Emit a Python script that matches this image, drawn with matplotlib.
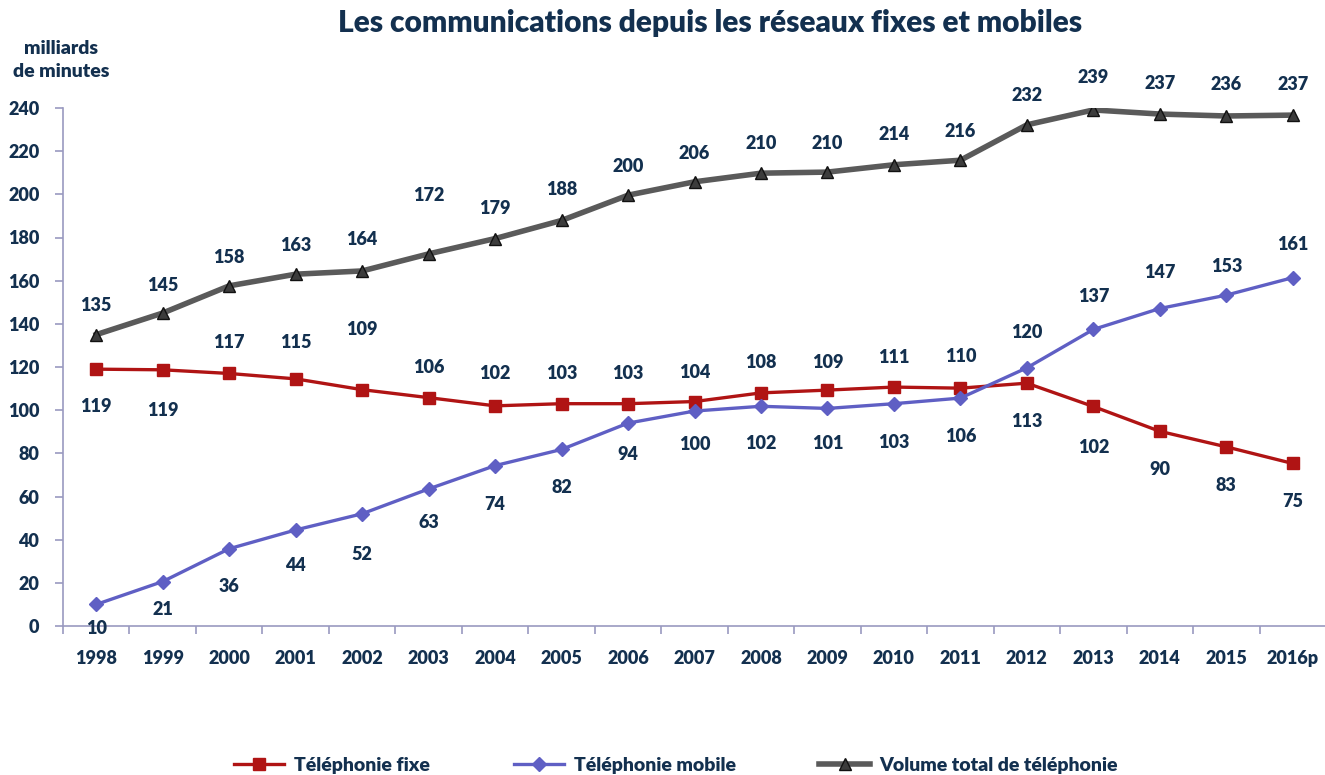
import matplotlib
matplotlib.use("Agg")
import matplotlib.pyplot as plt
import numpy as np

years = ["1998", "1999", "2000", "2001", "2002", "2003", "2004", "2005", "2006", "2007",
         "2008", "2009", "2010", "2011", "2012", "2013", "2014", "2015", "2016p"]
fixe = [119, 118.7, 117, 114.5, 109.5, 105.8, 102, 103, 103, 104,
        108, 109.3, 110.7, 110.2, 112.5, 101.7, 90.2, 83, 75.3]
mobile = [10, 20.6, 35.8, 44.5, 52, 63.5, 74.3, 81.8, 94, 99.6,
          101.8, 100.8, 103, 105.6, 119.6, 137.4, 147.1, 153.3, 161.4]
total = [135, 145, 157.6, 163, 164.5, 172.4, 179.5, 187.9, 199.6, 205.8,
         209.8, 210.3, 213.7, 215.8, 232.2, 239.1, 237.2, 236.3, 236.7]
fixe_labels = [119, 119, 117, 115, 109, 106, 102, 103, 103, 104, 108, 109, 111, 110, 113, 102, 90, 83, 75]
mobile_labels = [10, 21, 36, 44, 52, 63, 74, 82, 94, 100, 102, 101, 103, 106, 120, 137, 147, 153, 161]
total_labels = [135, 145, 158, 163, 164, 172, 179, 188, 200, 206, 210, 210, 214, 216, 232, 239, 237, 236, 237]

# label offsets in pixels (layout)
fixe_off = [-37, -41, 31, 36, 60, 30, 32, 30, 30, 29, 30, 28, 30, 32, -38, -41, -38, -39, -38]
mobile_off = [-24, -28, -38, -36, -41, -34, -39, -38, -31, -33, -37, -35, -39, -38, 35, 33, 36, 29, 33]
total_off = [29, 28, 28, 29, 31, 58, 30, 31, 29, 28, 30, 29, 30, 29, 29, 32, 31, 31, 31]

NAVY = "#13304f"
RED = "#b01414"
BLUE = "#5f5fc4"
GREY = "#5a5a5a"
AXC = "#9a9ac0"
W = 'heavy'

plt.rcParams['font.family'] = ['Lato', 'DejaVu Sans']
plt.rcParams['font.weight'] = W

fig = plt.figure(figsize=(13.25, 7.75), dpi=100)
ax = fig.add_axes([63/1325, 1-626/775, (1326-63)/1325, (626-108)/775])

x = np.arange(len(years))
l1, = ax.plot(x, fixe, color=RED, lw=2.4, marker='s', ms=8, mfc=RED, mec=RED, zorder=3,
              label="Téléphonie fixe")
l2, = ax.plot(x, mobile, color=BLUE, lw=2.4, marker='D', ms=7, mfc=BLUE, mec=BLUE, zorder=3,
              label="Téléphonie mobile")
l3, = ax.plot(x, total, color=GREY, lw=4, marker='^', ms=9, mfc="#3c3c3c", mec="#111111",
              mew=1, zorder=3, label="Volume total de téléphonie")

for series, labs, offs in [(fixe, fixe_labels, fixe_off), (mobile, mobile_labels, mobile_off),
                           (total, total_labels, total_off)]:
    for xi, yi, lab, off in zip(x, series, labs, offs):
        ax.annotate(str(lab), (xi, yi), xytext=(0, off), textcoords='offset pixels',
                    ha='center', va='center', fontsize=13, fontweight=W, color=NAVY)

ax.set_xlim(-0.5, len(years) - 0.5)
ax.set_ylim(0, 240)
ax.set_yticks(range(0, 241, 20))
ax.set_xticks(x)
ax.set_xticklabels(years)
ax.set_xticks(np.arange(-0.5, len(years), 1), minor=True)
ax.tick_params(axis='x', which='major', length=0, pad=17, labelsize=13, labelcolor=NAVY)
ax.tick_params(axis='x', which='minor', length=6, color=AXC, width=1.2, direction='out')
ax.tick_params(axis='y', length=6, color=AXC, width=1.2, pad=11, labelsize=13, labelcolor=NAVY)
for lab in ax.get_xticklabels() + ax.get_yticklabels():
    lab.set_fontweight(W)

for s in ['top', 'right']:
    ax.spines[s].set_visible(False)
for s in ['left', 'bottom']:
    ax.spines[s].set_color(AXC)
    ax.spines[s].set_linewidth(1.2)
ax.patch.set_alpha(0)

fig.text(710/1325, 1-23/775, "Les communications depuis les réseaux fixes et mobiles",
         ha='center', va='center', fontsize=21.5, fontweight=W, color=NAVY)
fig.text(61/1325, 1-60/775, "milliards\nde minutes", ha='center', va='center',
         fontsize=14, fontweight=W, color=NAVY, linespacing=1.4)

leg = fig.legend(handles=[l1, l2, l3], loc='center', bbox_to_anchor=(676/1325, 1-765/775),
                 ncol=3, frameon=False, fontsize=14, columnspacing=4.3, handlelength=2.6,
                 handletextpad=0.5, borderaxespad=0)
for t in leg.get_texts():
    t.set_color(NAVY)
    t.set_fontweight(W)

fig.savefig("out.png", dpi=100)
